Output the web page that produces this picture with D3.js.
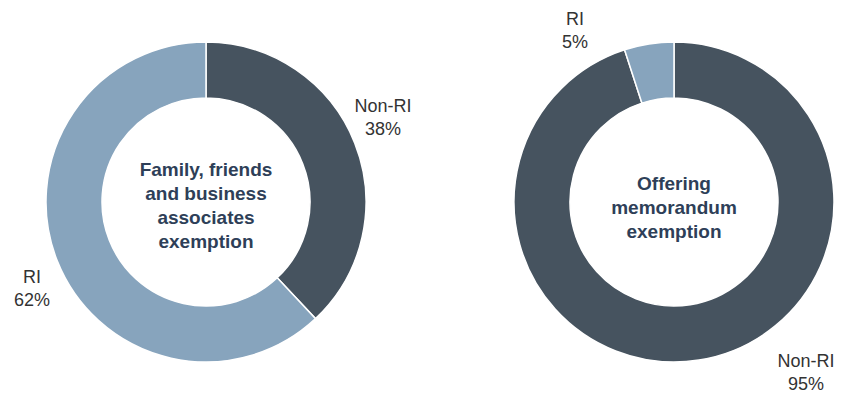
<!DOCTYPE html>
<html>
<head>
<meta charset="utf-8">
<script src="https://cdn.jsdelivr.net/npm/d3@7"></script>
<style>
  html, body { margin: 0; padding: 0; background: #ffffff; }
  svg { display: block; }
</style>
</head>
<body>
<svg id="chart" width="841" height="395"></svg>
<script>
// Share of investors by status, per exemption
const categories = ["Non-RI", "RI"];
const familyFriendsValues = [38, 62];
const offeringMemoValues = [95, 5];
const familyFriendsTitle = ["Family, friends", "and business", "associates", "exemption"];
const offeringMemoTitle = ["Offering", "memorandum", "exemption"];

const colors = d3.scaleOrdinal()
  .domain(categories)
  .range(["#46535f", "#87a4bd"]);

const svg = d3.select("#chart");

const outerR = 160;
const innerR = 104;

const pie = d3.pie().sort(null).value(d => d.value).startAngle(0).endAngle(2 * Math.PI);
const arc = d3.arc().innerRadius(innerR).outerRadius(outerR);

// layout for each donut: centre and label anchors (offsets from centre)
const donuts = [
  {
    cx: 206, cy: 202,
    values: familyFriendsValues,
    title: familyFriendsTitle,
    titleTop: 176,
    labelOffsets: { "Non-RI": [177, -90], "RI": [-174, 81] }
  },
  {
    cx: 674, cy: 202,
    values: offeringMemoValues,
    title: offeringMemoTitle,
    titleTop: 190,
    labelOffsets: { "Non-RI": [132, 165], "RI": [-99, -177] }
  }
];

donuts.forEach(dn => {
  const data = categories.map((c, i) => ({ category: c, value: dn.values[i] }));
  const g = svg.append("g").attr("transform", `translate(${dn.cx},${dn.cy})`);

  g.selectAll("path")
    .data(pie(data))
    .join("path")
    .attr("d", arc)
    .attr("fill", d => colors(d.data.category))
    .attr("stroke", "#ffffff")
    .attr("stroke-width", 1.5);

  // slice labels: category name over percentage
  const lbl = g.selectAll("text.lbl")
    .data(data)
    .join("text")
    .attr("class", "lbl")
    .attr("text-anchor", "middle")
    .attr("font-family", "'Liberation Sans', Arial, sans-serif")
    .attr("font-size", 18)
    .attr("fill", "#333333")
    .attr("transform", d => `translate(${dn.labelOffsets[d.category][0]},${dn.labelOffsets[d.category][1]})`);
  lbl.append("tspan").attr("x", 0).attr("dy", 0).text(d => d.category);
  lbl.append("tspan").attr("x", 0).attr("dy", 23).text(d => d.value + "%");

  // centre title
  const t = svg.append("text")
    .attr("text-anchor", "middle")
    .attr("font-family", "'Liberation Sans', Arial, sans-serif")
    .attr("font-weight", "bold")
    .attr("font-size", 19)
    .attr("fill", "#2e3f58");
  dn.title.forEach((line, i) => {
    t.append("tspan")
      .attr("x", dn.cx)
      .attr("y", dn.titleTop + i * 24)
      .text(line);
  });
});
</script>
</body>
</html>
